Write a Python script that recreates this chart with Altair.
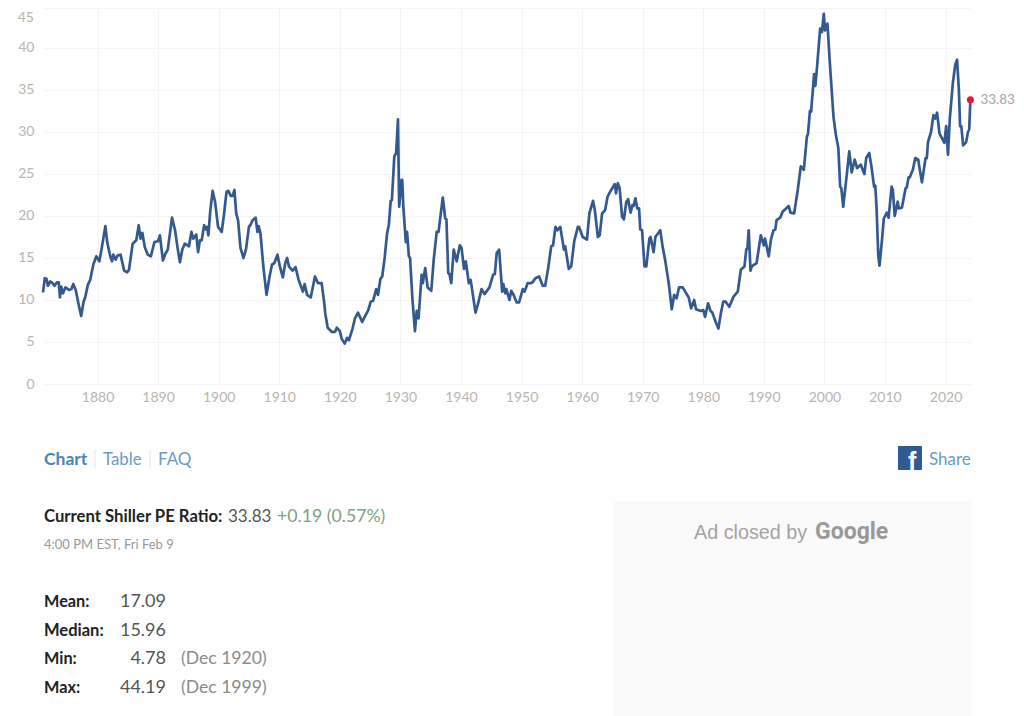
import altair as alt
import pandas as pd

years = [1871.0,1871.3,1871.6,1871.8,1872.2,1872.6,1872.9,1873.3,1873.6,1873.8,1874.0,1874.3,1874.7,1875.3,1875.7,1876.0,1876.4,1876.9,1877.3,1877.7,1878.0,1878.4,1878.8,1879.3,1879.8,1880.3,1880.7,1881.3,1881.6,1882.1,1882.4,1882.6,1883.0,1883.3,1883.8,1884.4,1884.9,1885.2,1885.8,1886.4,1886.8,1887.1,1887.4,1887.8,1888.3,1888.8,1889.4,1890.0,1890.3,1890.8,1891.2,1891.6,1892.3,1892.8,1893.2,1893.6,1894.0,1894.4,1895.1,1895.5,1895.8,1896.3,1896.6,1896.9,1897.2,1897.6,1897.9,1898.1,1898.3,1898.6,1899.0,1899.4,1899.9,1900.5,1900.9,1901.3,1901.6,1902.0,1902.3,1902.6,1902.9,1903.2,1903.6,1904.1,1904.5,1905.0,1905.3,1905.6,1906.1,1906.4,1906.6,1906.9,1907.4,1907.9,1908.4,1908.8,1909.2,1909.7,1910.1,1910.6,1911.0,1911.3,1911.6,1912.2,1912.7,1913.2,1913.9,1914.2,1914.6,1915.2,1915.9,1916.4,1917.0,1917.4,1917.6,1918.0,1918.7,1919.2,1919.5,1920.0,
1920.3,1920.8,1921.2,1921.5,1922.1,1922.5,1923.0,1923.7,1924.2,1924.7,1925.1,1925.5,1926.0,1926.3,1926.7,1927.0,1927.4,1927.8,1928.1,1928.4,1928.6,1929.0,1929.3,1929.6,1929.8,1930.2,1930.3,1930.5,1930.9,1931.1,1931.4,1931.6,1932.0,1932.4,1932.7,1933.0,1933.5,1933.7,1934.1,1934.5,1935.1,1935.5,1936.0,1936.3,1937.0,1937.4,1937.6,1937.9,1938.1,1938.4,1938.8,1939.3,1939.8,1940.1,1940.5,1940.8,1941.3,1941.6,1942.4,1942.8,1943.4,1943.9,1944.7,1945.3,1945.6,1945.9,1946.3,1946.8,1947.0,1947.3,1947.5,1948.0,1948.3,1948.7,1949.2,1949.6,1950.2,1950.5,1951.0,1951.6,1951.8,1952.3,1952.9,1953.5,1953.9,1954.4,1954.9,1955.2,1955.6,1955.9,1956.4,1957.0,1957.2,1957.8,1958.2,1958.7,1959.3,1959.5,1960.1,1960.8,1961.2,1961.8,1962.1,1962.6,1962.9,1963.3,1963.8,1964.2,1964.8,1965.4,1965.6,1965.9,1966.2,1966.6,1966.9,1967.3,1967.6,1968.0,1968.3,1968.5,1968.8,1969.1,1969.4,1969.6,1969.9,1970.3,1970.6,1971.1,1971.3,1971.8,1972.1,1972.9,1973.3,1973.7,1974.3,1974.8,1975.2,1975.6,1976.0,
1976.6,1977.6,1978.0,1978.5,1978.8,1979.6,1980.0,1980.3,1980.8,1981.2,1981.5,1982.1,1982.5,1982.9,1983.3,1983.7,1984.3,1985.0,1985.7,1986.2,1986.8,1987.1,1987.3,1987.5,1987.8,1988.0,1988.8,1989.5,1990.0,1990.2,1990.8,1991.2,1991.6,1991.9,1992.1,1992.7,1993.1,1994.1,1994.4,1995.0,1995.6,1996.1,1996.6,1997.1,1997.3,1997.6,1997.8,1998.3,1998.5,1998.7,1999.3,1999.6,1999.9,2000.1,2000.5,2000.9,2001.5,2001.9,2002.3,2002.6,2002.8,2003.1,2003.6,2004.1,2004.5,2005.0,2005.4,2006.0,2006.6,2006.9,2007.4,2007.8,2008.2,2008.4,2008.6,2008.9,2009.1,2009.5,2009.8,2010.3,2010.6,2011.1,2011.3,2011.6,2012.1,2012.3,2012.8,2013.4,2013.6,2013.9,2014.1,2014.6,2015.0,2015.5,2015.7,2016.1,2016.7,2016.9,2017.1,2017.6,2018.0,2018.3,2018.6,2019.0,2019.8,2020.1,2020.4,2020.7,2021.2,2021.6,2021.9,2022.2,2022.4,2022.6,2022.9,2023.4,2023.7,2023.9,2024.1]

pe = [10.9,12.6,12.5,11.7,12.2,12.0,11.7,12.1,12.1,10.3,11.6,10.8,11.5,11.2,11.3,11.9,11.2,9.4,8.1,9.8,10.4,11.8,12.4,14.2,15.2,14.6,16.2,18.8,16.9,15.2,14.6,15.4,14.8,15.3,15.4,13.5,13.3,13.6,16.7,17.1,18.9,17.3,18.0,16.3,15.4,15.2,16.9,17.0,17.7,14.7,15.5,16.0,19.8,18.3,16.3,14.5,16.0,16.7,16.4,18.1,17.3,17.8,15.7,17.1,17.1,18.9,18.4,18.7,17.7,20.5,23.0,21.7,18.7,18.1,20.3,22.9,23.0,22.4,22.4,23.1,20.3,19.5,16.2,15.0,16.0,18.7,19.0,19.5,19.8,18.1,18.8,17.9,13.8,10.6,12.8,14.2,14.4,15.4,14.0,12.7,14.4,15.0,14.0,13.5,13.9,12.4,11.0,11.9,10.6,10.3,12.8,12.0,12.0,9.8,8.4,6.7,6.2,6.2,6.7,6.3,
5.4,4.8,5.5,5.2,6.6,7.8,8.5,7.4,8.1,8.8,9.8,9.9,11.3,10.6,12.5,12.8,15.0,17.9,19.0,21.8,21.9,27.1,27.5,31.5,21.1,24.3,24.3,20.9,16.9,18.1,15.2,15.0,10.0,6.3,8.7,7.8,13.0,12.0,13.8,11.5,11.1,14.8,18.1,18.1,22.2,19.7,19.6,13.2,13.1,12.0,16.0,14.6,16.5,16.2,13.7,14.6,12.0,12.4,8.5,9.5,11.3,10.7,11.5,13.0,13.1,15.6,16.0,11.0,11.9,10.8,11.3,10.0,11.1,10.6,9.7,9.7,11.3,11.0,12.0,12.0,12.1,12.6,12.8,11.7,11.7,13.8,16.4,16.5,18.7,18.3,18.7,16.0,16.4,13.7,14.0,17.0,18.7,18.7,17.5,17.2,20.3,21.8,20.7,17.5,17.7,20.3,20.7,22.3,23.1,23.8,22.7,23.9,23.3,19.9,19.6,21.7,22.0,20.4,21.3,21.2,22.1,20.9,20.9,18.4,18.3,14.0,14.0,17.3,17.5,15.7,17.5,18.3,16.3,14.8,12.0,8.9,10.6,10.2,11.5,
11.5,10.3,9.0,10.0,8.9,8.7,8.8,8.0,9.6,8.7,8.5,7.3,6.6,8.4,9.8,9.8,9.2,10.4,11.0,13.6,14.0,16.0,16.2,18.3,13.5,14.0,14.4,17.7,16.5,17.3,15.2,17.3,18.3,18.4,19.5,19.8,20.5,21.2,20.4,20.3,23.1,25.9,25.5,29.4,29.8,32.5,32.4,36.9,35.5,37.0,42.3,41.9,44.05,42.1,42.9,38.2,31.8,29.6,28.1,23.5,23.3,21.1,24.3,27.7,25.2,26.7,25.7,26.1,25.0,26.9,27.5,25.7,23.5,23.6,21.1,15.2,14.1,17.1,19.7,20.4,19.8,23.5,23.1,20.0,21.7,20.9,21.0,23.3,23.4,24.6,24.6,25.5,26.9,26.7,25.7,24.0,26.9,26.9,28.8,30.0,32.0,31.6,32.3,29.8,28.7,30.7,27.3,31.6,35.8,38.0,38.6,35.0,30.7,30.7,28.4,28.8,30.0,30.3,33.83]

x_ticks = list(range(1880, 2030, 10))
y_ticks = list(range(0, 45, 5))
last_year = [2024.1]
last_value = [33.83]
last_label = ["33.83"]

FONT = "Lato"
AXIS_GREY = "#b8b4ae"
GRID = "#f4f4f4"
# text, page x, page baseline y, size, colour, weight, align
notes = [
    ("Chart", 44, 465, 17.5, "#4a84b5", "bold", "left"),
    ("Table", 103, 465, 16.8, "#6b9bc3", "normal", "left"),
    ("FAQ", 158, 465, 17, "#6b9bc3", "normal", "left"),
    ("Share", 929, 465, 17, "#6b9bc3", "normal", "left"),
    ("Current Shiller PE Ratio:", 44, 522, 16.7, "#222222", "bold", "left"),
    ("33.83", 228, 522, 17, "#555555", "normal", "left"),
    ("+0.19 (0.57%)", 277, 522, 17.7, "#7f9f7d", "normal", "left"),
    ("4:00 PM EST, Fri Feb 9", 44, 549, 13, "#9a9a9a", "normal", "left"),
    ("Mean:", 44, 607, 16.3, "#222222", "bold", "left"),
    ("Median:", 44, 636, 16.5, "#222222", "bold", "left"),
    ("Min:", 44, 664, 16.3, "#222222", "bold", "left"),
    ("Max:", 44, 693, 16.3, "#222222", "bold", "left"),
    ("17.09", 166, 607, 18, "#555555", "normal", "right"),
    ("15.96", 166, 636, 18, "#555555", "normal", "right"),
    ("4.78", 166, 664, 18, "#555555", "normal", "right"),
    ("44.19", 166, 693, 18, "#555555", "normal", "right"),
    ("(Dec 1920)", 181, 664, 17.6, "#8a8a8a", "normal", "left"),
    ("(Dec 1999)", 181, 693, 17.6, "#8a8a8a", "normal", "left"),
]

OX, OY = 43, 8
W, H = 928, 376
Y_TOP = 44.76


def px(x):
    return x - OX


def py(y):
    return y - OY


line_df = pd.DataFrame({"year": years, "pe": pe})
last_df = pd.DataFrame({"year": last_year, "pe": last_value, "label": last_label})

x_scale = alt.Scale(domain=[1871, 2024.2], nice=False, zero=False)
y_scale = alt.Scale(domain=[0, Y_TOP], nice=False)

line = alt.Chart(line_df).mark_line(color="#34598e", strokeWidth=2.7, strokeJoin="round", clip=False).encode(
    x=alt.X("year:Q", scale=x_scale, title=None,
            axis=alt.Axis(values=x_ticks, format="d", grid=True, gridColor=GRID, domain=False, ticks=False,
                          labelColor=AXIS_GREY, labelFont=FONT, labelFontSize=14, labelPadding=6, labelOverlap=False)),
    y=alt.Y("pe:Q", scale=y_scale, title=None,
            axis=alt.Axis(values=y_ticks, grid=True, gridColor=GRID, domain=False, ticks=False,
                          labelColor=AXIS_GREY, labelFont=FONT, labelFontSize=14, labelPadding=9, labelOverlap=False)),
)

point = alt.Chart(last_df).mark_circle(color="#e8173a", opacity=1, size=50, clip=False).encode(
    x=alt.X("year:Q", scale=x_scale), y=alt.Y("pe:Q", scale=y_scale))

point_label = alt.Chart(last_df).mark_text(align="left", dx=10, font=FONT, fontSize=13.5, color="#a9a5a0", clip=False).encode(
    x=alt.X("year:Q", scale=x_scale), y=alt.Y("pe:Q", scale=y_scale), text="label:N")

# top grid line and its tick label, kept inside the page margin
top_rule = alt.Chart().mark_rule(color=GRID, strokeWidth=1).encode(
    x=alt.value(0), x2=alt.value(W), y=alt.value(0.5))
top_label = alt.Chart().mark_text(text="45", font=FONT, fontSize=14, color=AXIS_GREY, align="right", baseline="top").encode(
    x=alt.value(-9), y=alt.value(3))

layers = [top_rule, line, point, point_label, top_label]

for t, x, y, size, color, weight, align in notes:
    layers.append(alt.Chart().mark_text(text=t, font=FONT, fontSize=size, color=color, fontWeight=weight,
                                        align=align, baseline="alphabetic").encode(x=alt.value(px(x)), y=alt.value(py(y))))

# tab separators
for sx in (95, 150):
    layers.append(alt.Chart().mark_rule(color="#dfe6ec", strokeWidth=1).encode(
        x=alt.value(px(sx)), y=alt.value(py(450)), y2=alt.value(py(468))))

# Facebook share icon
layers.append(alt.Chart().mark_rect(color="#2f5a94", cornerRadius=1).encode(
    x=alt.value(px(898)), x2=alt.value(px(922)), y=alt.value(py(446)), y2=alt.value(py(470))))
layers.append(alt.Chart().mark_text(text="f", font="Liberation Sans", fontWeight="bold", fontSize=25, color="white",
                                    align="left", baseline="alphabetic").encode(x=alt.value(px(908)), y=alt.value(py(470))))

# closed ad panel
layers.append(alt.Chart().mark_rect(color="#fafafa").encode(
    x=alt.value(px(614)), x2=alt.value(px(971)), y=alt.value(py(501)), y2=alt.value(py(716))))
layers.append(alt.Chart().mark_text(text="Ad closed by", font="Liberation Sans", fontSize=19.8, color="#a3a3a3",
                                    align="left", baseline="alphabetic").encode(x=alt.value(px(694)), y=alt.value(py(539))))
layers.append(alt.Chart().mark_text(text="Google", font="Roboto", fontWeight="bold", fontSize=23, color="#999999",
                                    align="left", baseline="alphabetic").encode(x=alt.value(px(815)), y=alt.value(py(539))))

chart = alt.layer(*layers).properties(
    width=W, height=H,
    padding={"left": OX - 8, "top": 0, "right": 45, "bottom": 332},
    autosize=alt.AutoSizeParams(type="none"),
    background="white",
).configure_view(stroke=None)

chart.save("out.html", embed_options={"renderer": "svg", "actions": False})
